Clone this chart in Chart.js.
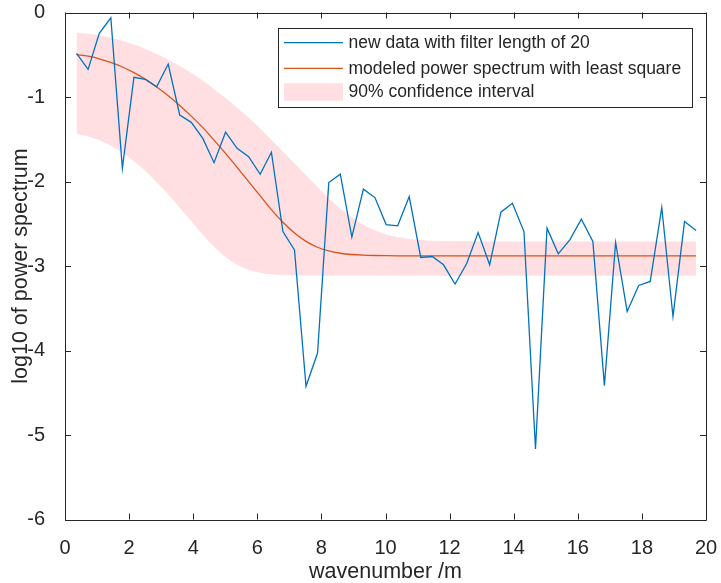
<!DOCTYPE html>
<html>
<head>
<meta charset="utf-8">
<script src="https://cdn.jsdelivr.net/npm/chart.js@4/dist/chart.umd.min.js"></script>
<style>
  html, body { margin: 0; padding: 0; background: #ffffff; }
  #wrap { width: 721px; height: 583px; }
</style>
</head>
<body>
<div id="wrap"><canvas id="c" width="721" height="583"></canvas></div>
<script>
// wavenumber samples (1/m)
const wavenumber = [0.36, 0.72, 1.07, 1.43, 1.79, 2.15, 2.51, 2.86, 3.22, 3.58,
  3.94, 4.30, 4.65, 5.01, 5.37, 5.73, 6.09, 6.44, 6.80, 7.16,
  7.52, 7.88, 8.23, 8.59, 8.95, 9.31, 9.67, 10.02, 10.38, 10.74,
  11.10, 11.46, 11.81, 12.17, 12.53, 12.89, 13.25, 13.60, 13.96, 14.32,
  14.68, 15.04, 15.39, 15.75, 16.11, 16.47, 16.83, 17.18, 17.54, 17.90,
  18.26, 18.62, 18.97, 19.33, 19.69];

// log10 power spectrum of the filtered data (filter length 20)
const logPower = [-0.483, -0.673, -0.247, -0.063, -1.843, -0.767, -0.790, -0.878, -0.610, -1.213,
  -1.300, -1.490, -1.777, -1.417, -1.607, -1.706, -1.914, -1.654, -2.592, -2.809,
  -4.424, -4.030, -2.013, -1.914, -2.659, -2.091, -2.190, -2.510, -2.525, -2.178,
  -2.899, -2.888, -2.986, -3.214, -2.974, -2.604, -2.986, -2.363, -2.257, -2.592,
  -5.164, -2.552, -2.856, -2.690, -2.446, -2.710, -4.416, -2.722, -3.538, -3.230,
  -3.183, -2.308, -3.597, -2.474, -2.580];

// least-squares model of the power spectrum
const modelFit = [-0.499, -0.517, -0.548, -0.591, -0.645, -0.712, -0.791, -0.882, -0.985, -1.100,
  -1.226, -1.363, -1.511, -1.668, -1.832, -2.001, -2.170, -2.333, -2.483, -2.609,
  -2.708, -2.778, -2.822, -2.849, -2.864, -2.872, -2.876, -2.878, -2.879, -2.879,
  -2.879, -2.879, -2.879, -2.879, -2.879, -2.879, -2.879, -2.879, -2.879, -2.879,
  -2.879, -2.879, -2.879, -2.879, -2.879, -2.879, -2.879, -2.879, -2.879, -2.879,
  -2.879, -2.879, -2.879, -2.879, -2.879];

// 90% confidence bounds of the model
const ciUpper = [-0.239, -0.251, -0.271, -0.299, -0.335, -0.379, -0.431, -0.490, -0.558, -0.634,
  -0.717, -0.808, -0.907, -1.013, -1.127, -1.247, -1.374, -1.507, -1.644, -1.785,
  -1.926, -2.065, -2.197, -2.319, -2.424, -2.511, -2.578, -2.626, -2.658, -2.679,
  -2.692, -2.700, -2.704, -2.707, -2.708, -2.709, -2.709, -2.709, -2.709, -2.709,
  -2.709, -2.709, -2.709, -2.709, -2.709, -2.709, -2.709, -2.709, -2.709, -2.709,
  -2.709, -2.709, -2.709, -2.709, -2.709];
const ciLower = [-1.438, -1.466, -1.512, -1.576, -1.659, -1.759, -1.876, -2.008, -2.154, -2.310,
  -2.471, -2.629, -2.773, -2.894, -2.984, -3.043, -3.079, -3.098, -3.107, -3.112,
  -3.114, -3.115, -3.115, -3.115, -3.115, -3.115, -3.115, -3.115, -3.115, -3.115,
  -3.115, -3.115, -3.115, -3.115, -3.115, -3.115, -3.115, -3.115, -3.115, -3.115,
  -3.115, -3.115, -3.115, -3.115, -3.115, -3.115, -3.115, -3.115, -3.115, -3.115,
  -3.115, -3.115, -3.115, -3.115, -3.115];

const xTicks = [0, 2, 4, 6, 8, 10, 12, 14, 16, 18, 20];
const yTicks = [0, -1, -2, -3, -4, -5, -6];

const seriesLabels = ['new data with filter length of 20',
  'modeled power spectrum with least square',
  '90% confidence interval'];

const AXIS_COLOR = '#262626';
const BLUE = '#0072BD';
const ORANGE = '#D95319';
const PINK = '#FFDFE2';
const FONT = '"Liberation Sans", Arial, Helvetica, sans-serif';

const pts = (ys) => wavenumber.map((x, i) => ({ x: x, y: ys[i] }));

// Box around the axes with inward tick marks on all four sides
const axesBox = {
  id: 'axesBox',
  afterDatasetsDraw(chart) {
    const { ctx, chartArea: a, scales } = chart;
    const len = 6;
    ctx.save();
    ctx.strokeStyle = AXIS_COLOR;
    ctx.lineWidth = 1;
    ctx.beginPath();
    ctx.rect(Math.round(a.left) + 0.5, Math.round(a.top) + 0.5,
      Math.round(a.right) - Math.round(a.left), Math.round(a.bottom) - Math.round(a.top));
    xTicks.forEach(v => {
      const px = Math.round(scales.x.getPixelForValue(v)) + 0.5;
      ctx.moveTo(px, a.bottom); ctx.lineTo(px, a.bottom - len);
      ctx.moveTo(px, a.top); ctx.lineTo(px, a.top + len);
    });
    yTicks.forEach(v => {
      const py = Math.round(scales.y.getPixelForValue(v)) + 0.5;
      ctx.moveTo(a.left, py); ctx.lineTo(a.left + len, py);
      ctx.moveTo(a.right, py); ctx.lineTo(a.right - len, py);
    });
    ctx.stroke();
    ctx.restore();
  }
};

// Boxed legend in the upper right of the axes
const boxedLegend = {
  id: 'boxedLegend',
  afterDraw(chart) {
    const { ctx } = chart;
    const bx = 278.5, by = 28.5, bw = 414, bh = 79;
    const rows = [42.7, 68.3, 92];
    const sx0 = 284, sx1 = 343, tx = 348.5;
    ctx.save();
    ctx.fillStyle = '#ffffff';
    ctx.fillRect(bx, by, bw, bh);
    ctx.strokeStyle = AXIS_COLOR;
    ctx.lineWidth = 1;
    ctx.strokeRect(bx, by, bw, bh);

    ctx.lineWidth = 1.3;
    ctx.strokeStyle = BLUE;
    ctx.beginPath(); ctx.moveTo(sx0, rows[0]); ctx.lineTo(sx1, rows[0]); ctx.stroke();
    ctx.strokeStyle = ORANGE;
    ctx.beginPath(); ctx.moveTo(sx0, rows[1]); ctx.lineTo(sx1, rows[1]); ctx.stroke();
    ctx.fillStyle = PINK;
    ctx.fillRect(sx0, rows[2] - 8.7, sx1 - sx0, 17.4);

    ctx.fillStyle = AXIS_COLOR;
    ctx.font = '17.5px ' + FONT;
    ctx.textBaseline = 'middle';
    ctx.textAlign = 'left';
    seriesLabels.forEach((t, i) => ctx.fillText(t, tx, rows[i] + 0.5));
    ctx.restore();
  }
};

new Chart(document.getElementById('c'), {
  type: 'line',
  data: {
    datasets: [
      {
        label: seriesLabels[0],
        data: pts(logPower),
        borderColor: BLUE,
        borderWidth: 1.3,
        pointRadius: 0,
        tension: 0,
        fill: false
      },
      {
        label: seriesLabels[1],
        data: pts(modelFit),
        borderColor: ORANGE,
        borderWidth: 1.3,
        pointRadius: 0,
        cubicInterpolationMode: 'monotone',
        fill: false
      },
      {
        label: seriesLabels[2],
        data: pts(ciUpper),
        borderWidth: 0,
        borderColor: 'rgba(0,0,0,0)',
        backgroundColor: PINK,
        pointRadius: 0,
        cubicInterpolationMode: 'monotone',
        fill: '+1'
      },
      {
        label: 'lower bound',
        data: pts(ciLower),
        borderWidth: 0,
        borderColor: 'rgba(0,0,0,0)',
        pointRadius: 0,
        cubicInterpolationMode: 'monotone',
        fill: false
      }
    ]
  },
  options: {
    responsive: false,
    animation: false,
    devicePixelRatio: 1,
    layout: { padding: { top: 12.5, right: 15, left: 0, bottom: 0 } },
    plugins: {
      legend: { display: false },
      tooltip: { enabled: false },
      filler: { propagate: false }
    },
    scales: {
      x: {
        type: 'linear',
        min: 0, max: 20,
        grid: { display: false },
        border: { display: false },
        afterBuildTicks: (s) => { s.ticks = xTicks.map(v => ({ value: v })); },
        afterFit: (s) => { s.height = 63.5; s.paddingLeft = 0; s.paddingRight = 0; },
        ticks: {
          autoSkip: false, maxRotation: 0, padding: 9,
          color: AXIS_COLOR,
          font: { family: FONT, size: 20, lineHeight: 1.2 }
        },
        title: {
          display: true, text: 'wavenumber /m', color: AXIS_COLOR,
          font: { family: FONT, size: 21.5, lineHeight: 1.05 },
          padding: { top: 0, bottom: 0 }
        }
      },
      y: {
        type: 'linear',
        min: -6, max: 0,
        grid: { display: false },
        border: { display: false },
        afterBuildTicks: (s) => { s.ticks = yTicks.map(v => ({ value: v })); },
        afterFit: (s) => { s.width = 65; s.paddingTop = 0; s.paddingBottom = 0; },
        ticks: {
          autoSkip: false, padding: 12,
          color: AXIS_COLOR,
          font: { family: FONT, size: 20, lineHeight: 1.0 }
        },
        title: {
          display: true, text: 'log10 of power spectrum', color: AXIS_COLOR,
          font: { family: FONT, size: 21.5, lineHeight: 1.2 },
          padding: { top: 8, bottom: 0 }
        }
      }
    }
  },
  plugins: [axesBox, boxedLegend]
});
</script>
</body>
</html>
